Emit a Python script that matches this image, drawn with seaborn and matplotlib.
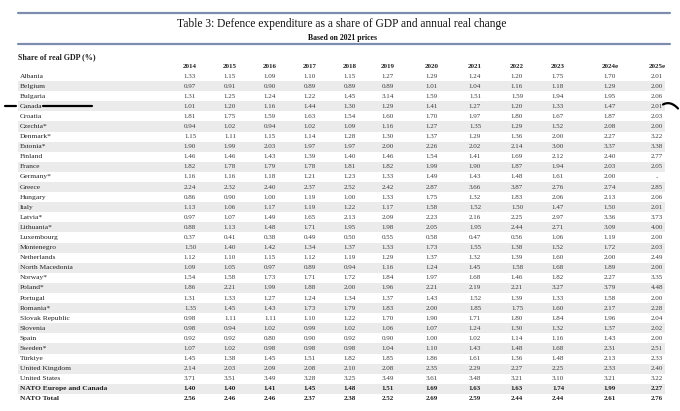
import numpy as np
import pandas as pd
import matplotlib
matplotlib.use("Agg")
import matplotlib.pyplot as plt
from matplotlib.colors import ListedColormap
from matplotlib.lines import Line2D
import seaborn as sns

nan = np.nan
title = "Table 3: Defence expenditure as a share of GDP and annual real change"
subtitle = "Based on 2021 prices"
section = "Share of real GDP (%)"
years = ["2014", "2015", "2016", "2017", "2018", "2019", "2020", "2021", "2022", "2023", "2024e", "2025e"]
countries = ["Albania", "Belgium", "Bulgaria", "Canada", "Croatia", "Czechia*", "Denmark*", "Estonia*",
             "Finland", "France", "Germany*", "Greece", "Hungary", "Italy", "Latvia*", "Lithuania*",
             "Luxembourg", "Montenegro", "Netherlands", "North Macedonia", "Norway*", "Poland*",
             "Portugal", "Romania*", "Slovak Republic", "Slovenia", "Spain", "Sweden*", "Türkiye",
             "United Kingdom", "United States", "NATO Europe and Canada", "NATO Total"]
bold_rows = ["NATO Europe and Canada", "NATO Total"]

v2014 = [1.33,0.97,1.31,1.01,1.81,0.94,1.15,1.90,1.46,1.82,1.16,2.24,0.86,1.13,0.97,0.88,0.37,1.50,1.12,1.09,1.54,1.86,1.31,1.35,0.98,0.98,0.92,1.07,1.45,2.14,3.71,1.40,2.56]
v2015 = [1.15,0.91,1.25,1.20,1.75,1.02,1.11,1.99,1.46,1.78,1.16,2.32,0.90,1.06,1.07,1.13,0.41,1.40,1.10,1.05,1.58,2.21,1.33,1.45,1.11,0.94,0.92,1.02,1.38,2.03,3.51,1.40,2.46]
v2016 = [1.09,0.90,1.24,1.16,1.59,0.94,1.15,2.03,1.43,1.79,1.18,2.40,1.00,1.17,1.49,1.48,0.38,1.42,1.15,0.97,1.73,1.99,1.27,1.43,1.11,1.02,0.80,0.98,1.45,2.09,3.49,1.41,2.46]
v2017 = [1.10,0.89,1.22,1.44,1.63,1.02,1.14,1.97,1.39,1.78,1.21,2.37,1.19,1.19,1.65,1.71,0.49,1.34,1.12,0.89,1.71,1.88,1.24,1.73,1.10,0.99,0.90,0.98,1.51,2.08,3.28,1.45,2.37]
v2018 = [1.15,0.89,1.45,1.30,1.54,1.09,1.28,1.97,1.40,1.81,1.23,2.52,1.00,1.22,2.13,1.95,0.50,1.37,1.19,0.94,1.72,2.00,1.34,1.79,1.22,1.02,0.92,0.98,1.82,2.10,3.25,1.48,2.38]
v2019 = [1.27,0.89,3.14,1.29,1.60,1.16,1.30,2.00,1.46,1.82,1.33,2.42,1.33,1.17,2.09,1.98,0.55,1.33,1.29,1.16,1.84,1.96,1.37,1.83,1.70,1.06,0.90,1.04,1.85,2.08,3.49,1.51,2.52]
v2020 = [1.29,1.01,1.59,1.41,1.70,1.27,1.37,2.26,1.54,1.99,1.49,2.87,1.75,1.58,2.23,2.05,0.58,1.73,1.37,1.24,1.97,2.21,1.43,2.00,1.90,1.07,1.00,1.10,1.86,2.35,3.61,1.69,2.69]
v2021 = [1.24,1.04,1.51,1.27,1.97,1.35,1.29,2.02,1.41,1.90,1.43,3.66,1.32,1.52,2.16,1.95,0.47,1.55,1.32,1.45,1.68,2.19,1.52,1.85,1.71,1.24,1.02,1.43,1.61,2.29,3.48,1.63,2.59]
v2022 = [1.20,1.16,1.59,1.20,1.80,1.29,1.36,2.14,1.69,1.87,1.48,3.87,1.83,1.50,2.25,2.44,0.56,1.38,1.39,1.58,1.46,2.21,1.39,1.75,1.80,1.30,1.14,1.48,1.36,2.27,3.21,1.63,2.44]
v2023 = [1.75,1.18,1.94,1.33,1.67,1.52,2.00,3.00,2.12,1.94,1.61,2.76,2.06,1.47,2.97,2.71,1.06,1.52,1.60,1.68,1.82,3.27,1.33,1.60,1.84,1.32,1.16,1.68,1.48,2.25,3.10,1.74,2.44]
v2024e = [1.70,1.29,1.95,1.47,1.87,2.08,2.27,3.37,2.40,2.03,2.00,2.74,2.13,1.50,3.36,3.09,1.19,1.72,2.00,1.89,2.27,3.79,1.58,2.17,1.96,1.37,1.43,2.31,2.13,2.33,3.21,1.99,2.61]
v2025e = [2.01,2.00,2.06,2.01,2.03,2.00,3.22,3.38,2.77,2.05,nan,2.85,2.06,2.01,3.73,4.00,2.00,2.03,2.49,2.00,3.35,4.48,2.00,2.28,2.04,2.02,2.00,2.51,2.33,2.40,3.22,2.27,2.76]

df = pd.DataFrame(dict(zip(years, [v2014, v2015, v2016, v2017, v2018, v2019, v2020, v2021,
                                   v2022, v2023, v2024e, v2025e])), index=countries)

sns.set_theme(style="white")
plt.rcParams["font.family"] = ["Liberation Serif", "DejaVu Serif"]

W, H = 680, 411
fig = plt.figure(figsize=(W / 100, H / 100), dpi=100)
fig.patch.set_facecolor("white")

def fx(x):
    return x / W

def fy(y):
    return 1 - y / H

# layout (pixels)
left, right = 18, 665
row_top, row_h = 71, 10.09
n = len(countries)
col_x = [190, 230, 270, 310, 350, 388, 432, 475, 517, 558, 610, 657]

ax = fig.add_axes([fx(left), fy(row_top + n * row_h), (right - left) / W, n * row_h / H])
band = pd.DataFrame({"band": [i % 2 for i in range(n)]}, index=countries)
sns.heatmap(band, ax=ax, cmap=ListedColormap(["white", "#ebebeb"]), cbar=False,
            xticklabels=False, yticklabels=False, vmin=0, vmax=1)
ax.set_xlim(0, 1)
for s in ax.spines.values():
    s.set_visible(False)

def ax_x(px):
    return (px - left) / (right - left)

txt_col = "#3a3a3a"
for i, c in enumerate(countries):
    bold = c in bold_rows
    ax.text(ax_x(20), i + 0.5, c, ha="left", va="center", fontsize=5.4,
            color="#222222", fontweight="bold" if bold else "normal")
    for j, yr in enumerate(years):
        v = df.loc[c, yr]
        s = ".." if pd.isna(v) else f"{v:.2f}"
        ax.text(ax_x(col_x[j]), i + 0.5, s, ha="center", va="center", fontsize=5.0,
                color="#222222" if bold else txt_col, fontweight="bold" if bold else "normal")

# header
for j, yr in enumerate(years):
    fig.text(fx(col_x[j]), fy(67), yr, ha="center", va="center", fontsize=5.0,
             fontweight="bold", color="#222222")
fig.text(fx(18), fy(57), section, ha="left", va="center", fontsize=5.8,
         fontweight="bold", color="#222222")
fig.text(fx(342), fy(23.5), title, ha="center", va="center", fontsize=8.3, color="#111111")
fig.text(fx(342), fy(38.5), subtitle, ha="center", va="center", fontsize=5.6,
         fontweight="bold", color="#111111")

rule_col = "#7d8db0"
for yy in (13.3, 44.3):
    fig.add_artist(Line2D([fx(18), fx(670)], [fy(yy), fy(yy)], color=rule_col, lw=1.6))

# hand-drawn annotation marks around the Canada row
mark_y = 105.5
fig.add_artist(Line2D([fx(5), fx(16)], [fy(mark_y), fy(mark_y)], color="black", lw=1.6))
fig.add_artist(Line2D([fx(43), fx(92)], [fy(mark_y), fy(mark_y)], color="black", lw=1.6))
t = np.linspace(0, 1, 20)
arc_x = 663 + 15 * t
arc_y = 104.5 - 10 * t * (1 - t) * 1.2 + 4 * t
fig.add_artist(Line2D(fx(arc_x), fy(arc_y), color="black", lw=1.6))

fig.savefig("out.png", dpi=100, facecolor="white")
